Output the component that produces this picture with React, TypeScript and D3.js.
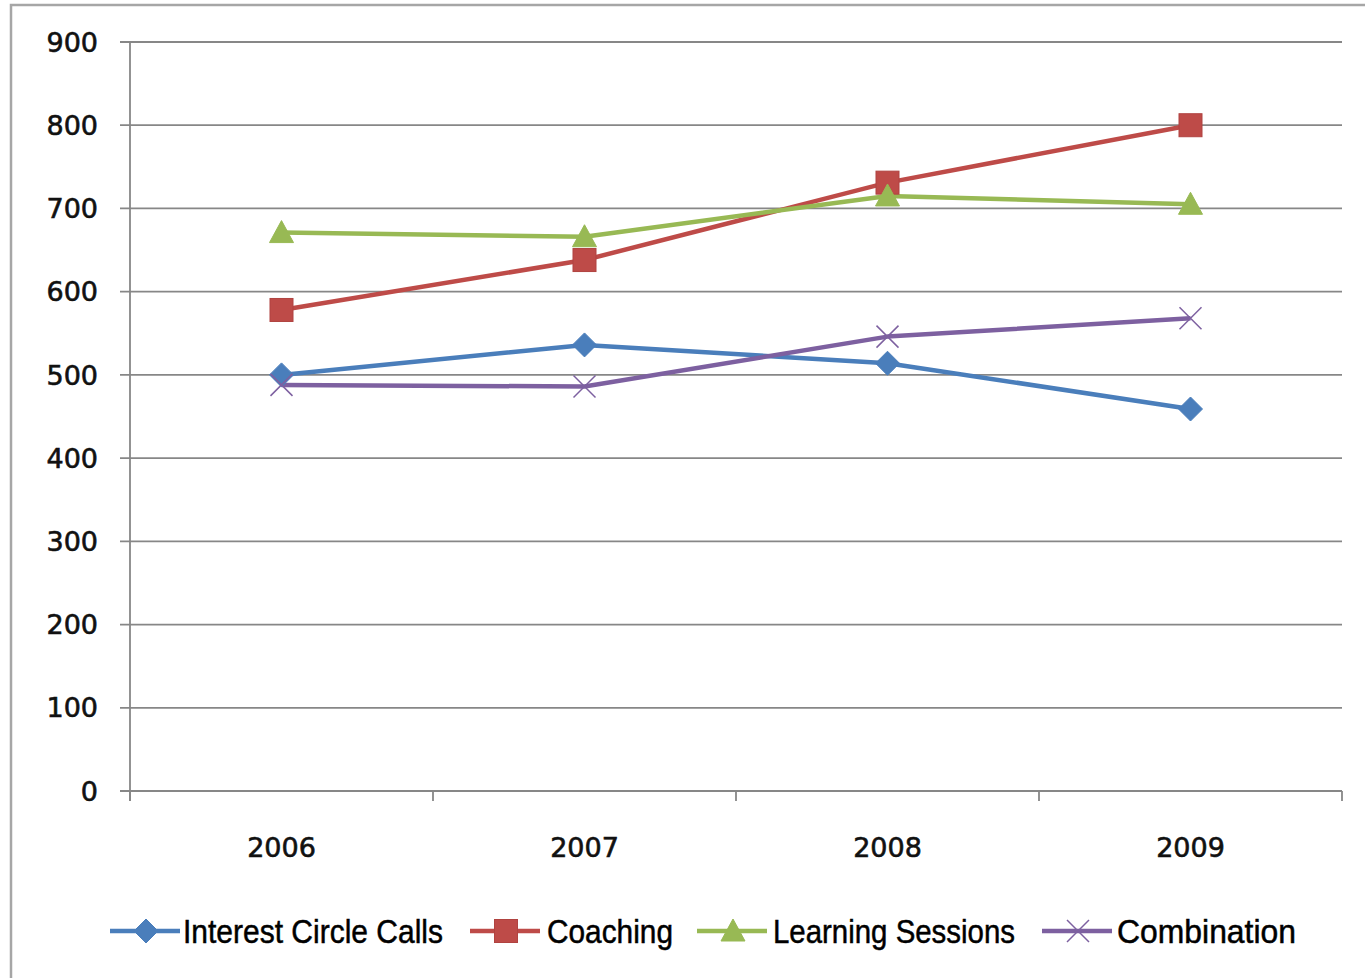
import React from "react";
import * as d3 from "d3";

const categories = ["2006", "2007", "2008", "2009"];
const seriesNames = ["Interest Circle Calls", "Coaching", "Learning Sessions", "Combination"];
const interestCircleCalls = [500, 536, 514, 459];
const coaching = [578, 638, 731, 800];
const learningSessions = [671, 666, 715, 705];
const combination = [488, 486, 546, 568];
const yTicks = [0, 100, 200, 300, 400, 500, 600, 700, 800, 900];

const colors = ["#4A7EBB", "#BE4B48", "#98B954", "#7D60A0"];
const markers = ["diamond", "square", "triangle", "x"];

const W = 1365;
const H = 978;
const left = 130;
const right = 1342;
const top = 42;
const bottom = 791;

function Marker({ type, x, y, color }: { type: string; x: number; y: number; color: string }) {
  if (type === "diamond") {
    const s = 12;
    return <path d={`M${x},${y - s}L${x + s},${y}L${x},${y + s}L${x - s},${y}Z`} fill={color} stroke={color} strokeWidth={1} />;
  }
  if (type === "square") {
    const s = 11.5;
    return <rect x={x - s} y={y - s} width={2 * s} height={2 * s} fill={color} stroke="#B04340" strokeWidth={1} />;
  }
  if (type === "triangle") {
    const s = 11;
    return <path d={`M${x},${y - s - 1}L${x + s + 1},${y + s - 1}L${x - s - 1},${y + s - 1}Z`} fill={color} stroke={color} strokeWidth={1} />;
  }
  const s = 11;
  return (
    <path d={`M${x - s},${y - s}L${x + s},${y + s}M${x - s},${y + s}L${x + s},${y - s}`} stroke={color} strokeWidth={1.5} fill="none" />
  );
}

export default function App() {
  const data = [interestCircleCalls, coaching, learningSessions, combination];
  const x = d3.scaleBand<string>().domain(categories).range([left, right]).padding(0);
  const y = d3.scaleLinear().domain([0, 900]).range([bottom, top]);
  const cx = (c: string) => (x(c) as number) + x.bandwidth() / 2;
  const line = d3
    .line<number>()
    .x((_, i) => cx(categories[i]))
    .y((v) => y(v));

  const legendItems = [
    { lineX: 110, textX: 183, w: 260 },
    { lineX: 470, textX: 547, w: 126 },
    { lineX: 697, textX: 773, w: 242 },
    { lineX: 1042, textX: 1117, w: 179 },
  ];
  const legendY = 931;
  const gridColor = "#878787";
  const tickFont = "'DejaVu Sans', Verdana, sans-serif";
  const legendFont = "'Liberation Sans', Arial, sans-serif";

  const xTickPositions = [...categories.map((c) => x(c) as number), right];

  return (
    <svg width={W} height={H} style={{ position: "absolute", left: 0, top: 0, background: "#fff" }}>
      <rect x={11} y={5} width={W + 20} height={H + 20} fill="#fff" stroke="#a6a6a6" strokeWidth={2.5} />
      {yTicks.map((t) => (
        <g key={t}>
          <line x1={120} x2={right} y1={y(t)} y2={y(t)} stroke={gridColor} strokeWidth={1.8} />
          <text x={98} y={y(t)} dy="0.36em" textAnchor="end" fontFamily={tickFont} fontSize={27} fill="#111" stroke="#111" strokeWidth={0.6}>
            {t}
          </text>
        </g>
      ))}
      <line x1={left} x2={left} y1={top} y2={bottom + 10} stroke={gridColor} strokeWidth={1.8} />
      {xTickPositions.map((p, i) => (
        <line key={i} x1={p} x2={p} y1={bottom} y2={bottom + 10} stroke={gridColor} strokeWidth={1.8} />
      ))}
      {categories.map((c) => (
        <text key={c} x={cx(c)} y={857} textAnchor="middle" fontFamily={tickFont} fontSize={27} fill="#111" stroke="#111" strokeWidth={0.6}>
          {c}
        </text>
      ))}
      {data.map((vals, si) => (
        <path key={si} d={line(vals) || ""} fill="none" stroke={colors[si]} strokeWidth={4.5} strokeLinejoin="round" />
      ))}
      {data.map((vals, si) =>
        vals.map((v, i) => <Marker key={`${si}-${i}`} type={markers[si]} x={cx(categories[i])} y={y(v)} color={colors[si]} />)
      )}
      {seriesNames.map((name, si) => {
        const it = legendItems[si];
        return (
          <g key={name}>
            <line x1={it.lineX} x2={it.lineX + 70} y1={legendY} y2={legendY} stroke={colors[si]} strokeWidth={4.5} />
            <Marker type={markers[si]} x={it.lineX + 36} y={legendY} color={colors[si]} />
            <text
              x={it.textX}
              y={legendY}
              dy="0.35em"
              fontFamily={legendFont}
              fontSize={34}
              fill="#000"
              stroke="#000"
              strokeWidth={0.5}
              textLength={it.w}
              lengthAdjust="spacingAndGlyphs"
            >
              {name}
            </text>
          </g>
        );
      })}
    </svg>
  );
}
